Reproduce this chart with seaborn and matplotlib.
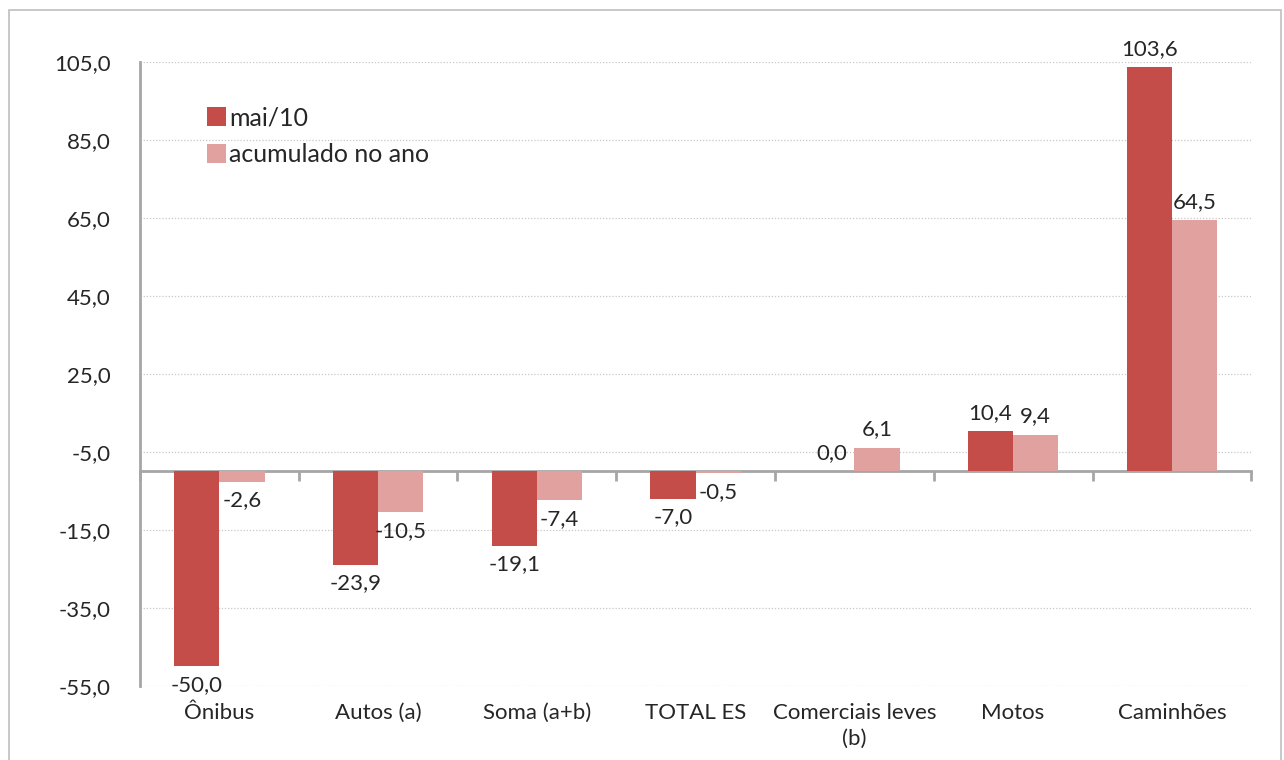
import pandas as pd
import matplotlib
matplotlib.use("Agg")
import matplotlib.pyplot as plt
import seaborn as sns

# data
categories = ["Ônibus", "Autos (a)", "Soma (a+b)", "TOTAL ES",
              "Comerciais leves\n(b)", "Motos", "Caminhões"]
mai10 = [-50.0, -23.9, -19.1, -7.0, 0.0, 10.4, 103.6]
acumulado = [-2.6, -10.5, -7.4, -0.5, 6.1, 9.4, 64.5]
series_names = ["mai/10", "acumulado no ano"]
ytick_values = [105, 85, 65, 45, 25, 5, -15, -35, -55]
ytick_labels = ["105,0", "85,0", "65,0", "45,0", "25,0", "-5,0", "-15,0", "-35,0", "-55,0"]

df = pd.DataFrame({
    "categoria": categories * 2,
    "valor": mai10 + acumulado,
    "serie": [series_names[0]] * len(categories) + [series_names[1]] * len(categories),
})

sns.set_style("white")
plt.rcParams["font.family"] = ["Lato", "DejaVu Sans"]
plt.rcParams["font.size"] = 16

colors = ["#C44D4A", "#E0A19F"]
grey = "#A6A6A6"
txt = "#262626"

fig = plt.figure(figsize=(12.84, 7.6), dpi=100)
ax = fig.add_axes([0.109, 0.0974, 0.8655, 0.821])

sns.barplot(data=df, x="categoria", y="valor", hue="serie", palette=colors,
            width=0.57, ax=ax, saturation=1, linewidth=0, legend=True)

# value labels with comma decimals
for cont, vals in zip(ax.containers, [mai10, acumulado]):
    ax.bar_label(cont, labels=[f"{v:.1f}".replace(".", ",") for v in vals],
                 padding=6, fontsize=16, color=txt)

ax.set_xlim(-0.5, len(categories) - 0.5)
ax.set_ylim(-55, 105)
ax.set_yticks(ytick_values)
ax.set_yticklabels(ytick_labels, color=txt)
ax.yaxis.grid(True, linestyle=(0, (1, 1.5)), color="#C8C8C8", linewidth=0.9)
ax.set_axisbelow(True)

ax.set_xlabel("")
ax.set_ylabel("")
ax.tick_params(axis="x", length=0, pad=12, labelsize=16, labelcolor=txt)
for lab in ax.get_xticklabels():
    lab.set_linespacing(1.4)
ax.tick_params(axis="y", direction="out", length=7, width=2, color=grey, pad=14,
               labelsize=16)

for s in ["top", "right", "bottom"]:
    ax.spines[s].set_visible(False)
ax.spines["left"].set_color(grey)
ax.spines["left"].set_linewidth(2)

# horizontal axis at zero with ticks between categories
zero_ax = ax.secondary_xaxis(0, transform=ax.transData)
zero_ax.set_xticks([i - 0.5 for i in range(len(categories) + 1)])
zero_ax.set_xticklabels([])
zero_ax.tick_params(direction="out", length=7, width=2, color=grey)
zero_ax.spines["bottom"].set_color(grey)
zero_ax.spines["bottom"].set_linewidth(2)

leg = ax.legend(loc="upper left", bbox_to_anchor=(0.04, 0.965), frameon=False,
                handlelength=0.75, handleheight=0.75, handletextpad=0.15,
                labelspacing=0.55, fontsize=18)
for t in leg.get_texts():
    t.set_color(txt)

# outer chart border
fig.patches.append(plt.Rectangle((9 / 1284, -0.05), 1272 / 1284, 1.037,
                                 transform=fig.transFigure, fill=False,
                                 edgecolor="#BFBFBF", linewidth=1.2))

fig.savefig("out.png", dpi=100)
